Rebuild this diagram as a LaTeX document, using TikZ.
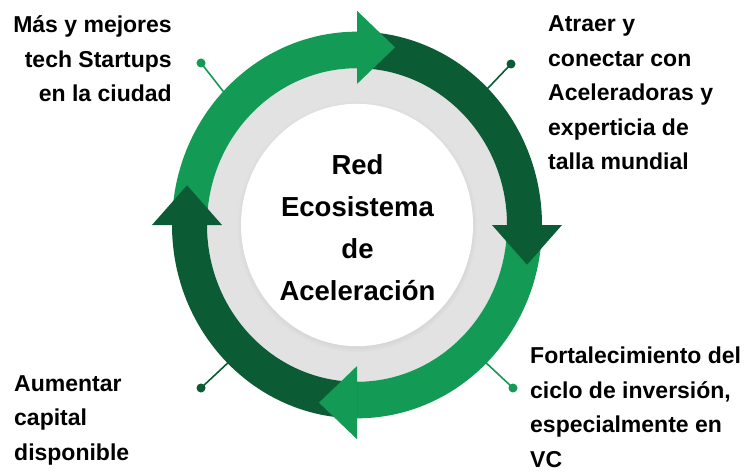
\documentclass[tikz,border=0pt]{standalone}
\usepackage{fontspec}
\setmainfont{Liberation Sans}
\usetikzlibrary{shadows}

\definecolor{verdeclaro}{HTML}{139A54}
\definecolor{verdeoscuro}{HTML}{0B5B35}
\definecolor{grisanillo}{HTML}{E2E2E2}

\tikzset{
	etiqueta/.style={font=\bfseries\fontsize{23}{34.5}\selectfont, inner sep=0pt},
	titulo/.style={font=\bfseries\fontsize{27.5}{41.7}\selectfont, align=center, inner sep=0pt},
	enlace/.style={line width=1.6pt},
	punto/.style={circle, fill, inner sep=0pt, minimum size=9pt},
	sombra/.style={circular drop shadow={shadow xshift=0pt, shadow yshift=-1.5pt, shadow scale=1.035, opacity=0.35}},
}

\begin{document}
\begin{tikzpicture}[x=1pt,y=1pt]
		\useasboundingbox (0,0) rectangle (744,472);
		\coordinate (C) at (357,247);

		%%% PUNTOS
		\coordinate (pNO) at (201,409);
		\coordinate (pNE) at (511,408);
		\coordinate (pSO) at (201,84);
		\coordinate (pSE) at (513,84);

		\begin{scope}[shift={(C)}, yscale=1.045]
			\coordinate (rNO) at (137:168);
			\coordinate (rNE) at (45:168);
			\coordinate (rSO) at (-134:168);
			\coordinate (rSE) at (-46:168);
		\end{scope}

		\draw[enlace, verdeclaro] (pNO) -- (rNO);
		\draw[enlace, verdeoscuro] (pNE) -- (rNE);
		\draw[enlace, verdeoscuro] (pSO) -- (rSO);
		\draw[enlace, verdeclaro] (pSE) -- (rSE);
		\node[punto, fill=verdeclaro] (dNO) at (pNO) {};
		\node[punto, fill=verdeoscuro] (dNE) at (pNE) {};
		\node[punto, fill=verdeoscuro] (dSO) at (pSO) {};
		\node[punto, fill=verdeclaro] (dSE) at (pSE) {};

		%%% ANILLO
		\begin{scope}[shift={(C)}, yscale=1.045]
			\fill[grisanillo] (0,0) circle (150);
			\fill[white, sombra] (0,0) circle (116);
			\foreach \a/\col in {90/verdeclaro, 0/verdeoscuro, -90/verdeclaro, 180/verdeoscuro}
				\fill[\col] ({\a+90}:185) arc[start angle=\a+90, end angle=\a, radius=185]
					-- (\a:150) arc[start angle=\a, end angle=\a+90, radius=150] -- cycle;
			\foreach \a/\col in {90/verdeclaro, 0/verdeoscuro, -90/verdeclaro, 180/verdeoscuro}
				\fill[\col] (\a:135) -- (\a:205) -- ({\a-12.6}:174.2) -- cycle;
		\end{scope}

		%%% TEXTOS
		\node[titulo, anchor=base] (red) at (357.5,172) {Red\\Ecosistema\\de\\Aceleración};
		\node[etiqueta, align=right, anchor=base east] (startups) at (172,370)
			{Más y mejores\\tech Startups\\en la ciudad};
		\node[etiqueta, align=left, anchor=base west] (atraer) at (548,302)
			{Atraer y\\conectar con\\Aceleradoras y\\experticia de\\talla mundial};
		\node[etiqueta, align=left, anchor=base west] (capital) at (14,12)
			{Aumentar\\capital\\disponible};
		\node[etiqueta, align=left, anchor=base west] (ciclo) at (530,5)
			{Fortalecimiento del\\ciclo de inversión,\\especialmente en\\VC};
\end{tikzpicture}
\end{document}
